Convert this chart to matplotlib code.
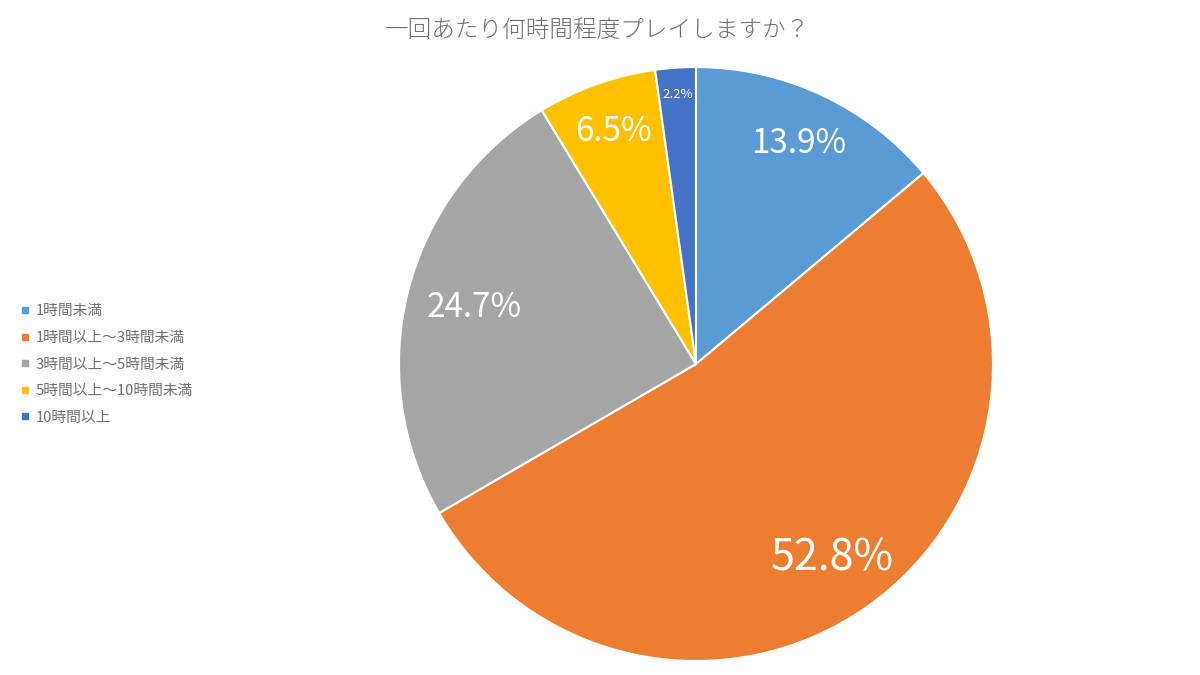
import numpy as np
import matplotlib.pyplot as plt
from matplotlib.lines import Line2D

plt.rcParams['font.family'] = ['Noto Sans CJK JP', 'DejaVu Sans']

# Data
categories = ['1時間未満', '1時間以上～3時間未満', '3時間以上～5時間未満',
              '5時間以上～10時間未満', '10時間以上']
shares = [13.9, 52.8, 24.7, 6.5, 2.2]
colors = ['#5B9BD5', '#ED7D31', '#A5A5A5', '#FFC000', '#4472C4']
title = '一回あたり何時間程度プレイしますか？'

# label styling per slice
label_sizes = [24, 31, 24, 24, 9.5]
label_radius = [0.82, 0.80, 0.77, 0.83, 0.91]

fig = plt.figure(figsize=(12, 6.75), dpi=100)
ax = fig.add_axes([0.3325, 0.0207, 0.495, 0.88])

wedges, _ = ax.pie(shares, colors=colors, startangle=90, counterclock=False,
                   wedgeprops=dict(edgecolor='white', linewidth=1.5))

for w, val, fs, r in zip(wedges, shares, label_sizes, label_radius):
    mid = np.deg2rad((w.theta1 + w.theta2) / 2)
    ax.text(r * np.cos(mid), r * np.sin(mid), f'{val:.1f}%',
            ha='center', va='center', color='white', fontsize=fs)

ax.set_xlim(-1, 1)
ax.set_ylim(-1, 1)
ax.set_aspect('equal')

fig.text(0.4975, 0.955, title, ha='center', va='center', fontsize=17,
         color='#707070', fontweight='light')

handles = [Line2D([], [], marker='s', linestyle='none', markersize=5,
                  markerfacecolor=c, markeredgecolor=c) for c in colors]
fig.legend(handles, categories, loc='center left', bbox_to_anchor=(0.005, 0.46),
           frameon=False, fontsize=10.6, labelcolor='#707070', handlelength=0.8,
           handletextpad=0.3, labelspacing=0.85)

fig.savefig('out.png', dpi=100)
